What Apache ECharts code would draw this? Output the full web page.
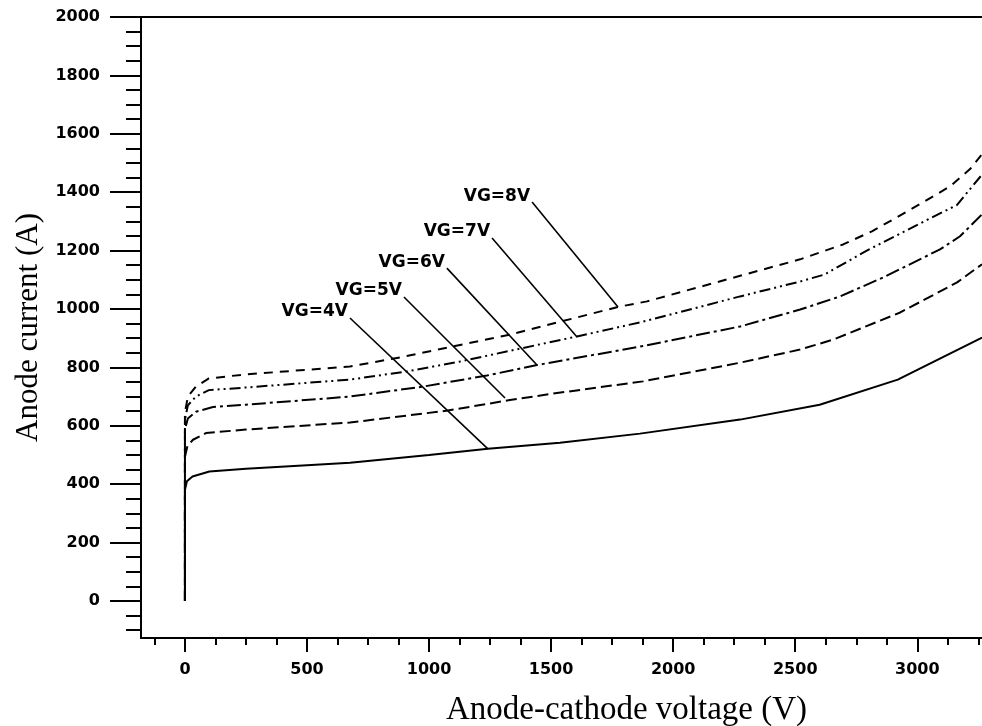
<!DOCTYPE html>
<html><head><meta charset="utf-8">
<script src="https://cdn.jsdelivr.net/npm/echarts@6/dist/echarts.min.js"></script>
<style>html,body{margin:0;padding:0;background:#fff}#c{width:982px;height:726px}</style>
</head><body><div id="c"></div>
<script>
// ---- tick labels ----
const xMajorTicks = [0, 500, 1000, 1500, 2000, 2500, 3000];
const yMajorTicks = [0, 200, 400, 600, 800, 1000, 1200, 1400, 1600, 1800, 2000];
const xMinorTicks = [];
for (let v = -125; v <= 3250; v += 125) if (v % 500 !== 0) xMinorTicks.push(v);
const yMinorTicks = [];
for (let v = -100; v <= 2000; v += 50) if (v % 200 !== 0) yMinorTicks.push(v);

// ---- series ----
const seriesNames = ['VG=4V', 'VG=5V', 'VG=6V', 'VG=7V', 'VG=8V'];
const v4 = [0, 0, 8, 31, 100, 250, 500, 676, 1000, 1241, 1536, 1864, 2274, 2600, 2920, 3265];
const i4 = [0, 381, 410, 426, 443, 453, 465, 473, 500, 521, 542, 573, 621, 672, 758, 902];
const v5 = [0, 0, 10, 33, 86, 250, 676, 1077, 1331, 1524, 1876, 2274, 2520, 2655, 2930, 3163, 3265];
const i5 = [0, 494, 530, 552, 575, 587, 611, 652, 688, 712, 752, 816, 861, 895, 988, 1091, 1153];
const v6 = [0, 0, 12, 45, 115, 250, 676, 975, 1237, 1442, 1864, 2274, 2520, 2684, 2860, 3093, 3175, 3265];
const i6 = [0, 587, 625, 648, 664, 672, 700, 734, 772, 808, 871, 940, 998, 1043, 1108, 1204, 1249, 1324];
const v7 = [0, 0, 12, 45, 98, 250, 676, 909, 1127, 1372, 1606, 1864, 2274, 2520, 2620, 2793, 3040, 3162, 3265];
const i7 = [0, 621, 670, 700, 722, 731, 758, 786, 820, 864, 906, 954, 1043, 1094, 1118, 1200, 1305, 1356, 1460];
const v8 = [0, 0, 12, 45, 98, 238, 676, 881, 1331, 1774, 1893, 2520, 2696, 2814, 2917, 3023, 3134, 3216, 3265];
const i8 = [0, 645, 700, 734, 762, 775, 803, 834, 912, 1007, 1026, 1170, 1221, 1266, 1314, 1365, 1420, 1479, 1530];

// ---- annotation leader lines (data coordinates) ----
const leaderStartV = [676, 897, 1073, 1258, 1422];
const leaderStartI = [969, 1041, 1140, 1243, 1366];
const leaderEndV = [1241, 1311, 1442, 1606, 1774];
const leaderEndI = [521, 695, 808, 904, 1007];

const curveV = [v4, v5, v6, v7, v8];
const curveI = [i4, i5, i6, i7, i8];
const dashes = ['solid', [11, 5], [14, 4, 3, 4], [11, 4, 2, 4, 2, 4], [9, 7]];

const X_MIN = -180, X_MAX = 3265, Y_MIN = -127, Y_MAX = 2000;
const plain = v => String(v);
const tickFont = { color: '#000', fontFamily: 'DejaVu Sans', fontWeight: 'bold', fontSize: 16, formatter: plain };
const blk = { color: '#000', width: 2 };

const series = [];
curveV.forEach((vs, k) => {
  series.push({
    name: seriesNames[k], type: 'line', xAxisIndex: 0, yAxisIndex: 0,
    data: vs.map((v, j) => [v, curveI[k][j]]),
    symbol: 'none', showSymbol: false, smooth: false,
    lineStyle: { color: '#000', width: 2, type: dashes[k] },
    z: 3
  });
});
leaderStartV.forEach((sv, k) => {
  series.push({
    name: seriesNames[k] + ' leader', type: 'line', xAxisIndex: 0, yAxisIndex: 0,
    data: [[sv, leaderStartI[k]], [leaderEndV[k], leaderEndI[k]]],
    symbol: 'none', showSymbol: false,
    lineStyle: { color: '#000', width: 1.6 },
    z: 4
  });
});
series.push({
  name: 'labels', type: 'scatter', xAxisIndex: 0, yAxisIndex: 0,
  symbolSize: 0.01, itemStyle: { color: '#000', opacity: 1 },
  data: leaderStartV.map((sv, k) => ({ value: [sv, leaderStartI[k]], name: seriesNames[k] })),
  label: { show: true, position: 'left', distance: 2, offset: [0, -6],
    formatter: p => p.name, color: '#000', opacity: 1, fontFamily: 'DejaVu Sans',
    fontWeight: 'bold', fontSize: 17 },
  z: 5
});

const chart = echarts.init(document.getElementById('c'), null, { renderer: 'canvas' });
chart.setOption({
  animation: false,
  backgroundColor: '#fff',
  grid: { left: 141, top: 17, right: 0, bottom: 88, containLabel: false, outerBoundsMode: 'none' },
  xAxis: [
    { type: 'value', min: X_MIN, max: X_MAX, position: 'bottom',
      axisLine: { show: true, onZero: false, lineStyle: blk },
      axisTick: { show: true, customValues: xMajorTicks, length: 14, lineStyle: blk },
      axisLabel: Object.assign({ customValues: xMajorTicks, margin: 24 }, tickFont),
      splitLine: { show: false },
      name: 'Anode-cathode voltage (V)', nameLocation: 'middle', nameGap: 56,
      nameTextStyle: { fontFamily: 'Liberation Serif', fontSize: 33, color: '#000', padding: [0, 0, 0, 130] } },
    { type: 'value', min: X_MIN, max: X_MAX, position: 'bottom',
      axisLine: { show: false, onZero: false },
      axisTick: { show: true, customValues: xMinorTicks, length: 7, lineStyle: blk },
      axisLabel: { show: false }, splitLine: { show: false } },
    { type: 'value', min: X_MIN, max: X_MAX, position: 'top',
      axisLine: { show: true, onZero: false, lineStyle: blk },
      axisTick: { show: false }, axisLabel: { show: false }, splitLine: { show: false } }
  ],
  yAxis: [
    { type: 'value', min: Y_MIN, max: Y_MAX, position: 'left',
      axisLine: { show: true, onZero: false, lineStyle: blk },
      axisTick: { show: true, customValues: yMajorTicks, length: 31, lineStyle: blk },
      axisLabel: Object.assign({ customValues: yMajorTicks, margin: 41 }, tickFont),
      splitLine: { show: false },
      name: 'Anode current (A)', nameLocation: 'middle', nameGap: 93,
      nameTextStyle: { fontFamily: 'Liberation Serif', fontSize: 31, color: '#000' } },
    { type: 'value', min: Y_MIN, max: Y_MAX, position: 'left',
      axisLine: { show: false, onZero: false },
      axisTick: { show: true, customValues: yMinorTicks, length: 15, lineStyle: blk },
      axisLabel: { show: false }, splitLine: { show: false } }
  ],
  series: series
});
</script></body></html>
